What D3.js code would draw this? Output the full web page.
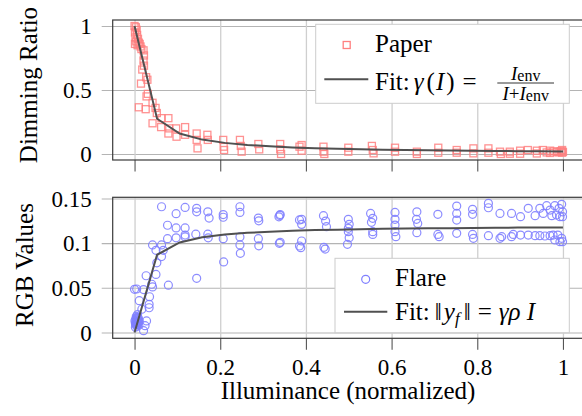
<!DOCTYPE html>
<html>
<head>
<meta charset="utf-8">
<script src="https://cdn.jsdelivr.net/npm/d3@7"></script>
<style>
  body { margin: 0; background: #fff; }
  svg text { font-family: "Liberation Serif", "DejaVu Serif", serif; }
</style>
</head>
<body>
<div id="chart"></div>
<script>
// --------------------------------------
//  Data
// --------------------------------------

const xTicks = [0, 0.2, 0.4, 0.6, 0.8, 1];
const yTicksTop = [0, 0.5, 1];
const yTicksBottom = [0, 0.05, 0.1, 0.15];

// Paper: illuminance / dimming ratio
const paperIllum = [
  0.000, 0.003, 0.005, 0.001, 0.006, 0.002, 0.008, 0.004, 0.010, 0.001, 0.007, 0.012, 0.014, 0.016,
  0.021, 0.022, 0.021, 0.022, 0.018, 0.015, 0.027, 0.030, 0.031, 0.028, 0.042, 0.049, 0.052, 0.010,
  0.026, 0.042, 0.062, 0.063, 0.079, 0.081, 0.079, 0.097, 0.098, 0.118, 0.118, 0.145, 0.145, 0.147,
  0.170, 0.171, 0.207, 0.208, 0.209, 0.246, 0.248, 0.250, 0.289, 0.291, 0.340, 0.340, 0.342, 0.385,
  0.390, 0.390, 0.441, 0.441, 0.443, 0.499, 0.499, 0.554, 0.556, 0.558, 0.608, 0.608, 0.659, 0.659,
  0.709, 0.709, 0.752, 0.752, 0.791, 0.791, 0.826, 0.826, 0.853, 0.855, 0.876, 0.876, 0.900, 0.900,
  0.918, 0.939, 0.939, 0.953, 0.962, 0.970, 0.970, 0.978, 0.986, 0.990, 0.995, 0.998, 0.998, 1.000
];
const paperDim = [
  1.00, 0.99, 0.97, 0.95, 0.93, 0.91, 0.90, 0.88, 0.87, 0.86, 0.85, 0.86, 0.84, 0.82,
  0.81, 0.77, 0.73, 0.69, 0.66, 0.55, 0.60, 0.58, 0.47, 0.45, 0.40, 0.36, 0.32, 0.365,
  0.35, 0.24, 0.21, 0.28, 0.28, 0.20, 0.16, 0.20, 0.135, 0.21, 0.15, 0.16, 0.11, 0.044,
  0.15, 0.11, 0.11, 0.057, 0.031, 0.11, 0.063, 0.018, 0.078, 0.036, 0.078, 0.036, 0.000, 0.057,
  0.070, 0.026, 0.057, 0.018, 0.000, 0.049, 0.018, 0.063, 0.031, 0.005, 0.049, 0.018, 0.018, 0.000,
  0.049, 0.010, 0.031, 0.010, 0.044, 0.005, 0.044, 0.010, 0.018, 0.000, 0.018, 0.002, 0.026, 0.002,
  0.031, 0.026, 0.004, 0.031, 0.012, 0.026, 0.008, 0.020, 0.018, 0.012, 0.022, 0.031, 0.010, 0.016
];

// Flare: illuminance / RGB values
const flareIllum = [
  0.002, 0.004, 0.006, 0.003, 0.007, 0.005, 0.008, 0.001, 0.009, 0.004, 0.006, 0.010, 0.002, 0.011, 0.007, 0.003,
  0.005, 0.006, 0.004, 0.008, 0.003, 0.009, 0.005, 0.007,
  0.021, 0.0245, 0.028, 0.017, 0.034, 0.034, 0.011, 0.035, 0.000, 0.005, 0.021, 0.040, 0.042, 0.027, 0.052, 0.050,
  0.079, 0.145, 0.042, 0.050, 0.067, 0.063, 0.063, 0.077, 0.097, 0.118, 0.118, 0.077, 0.097, 0.118, 0.063, 0.097,
  0.118, 0.145, 0.145, 0.143, 0.171, 0.174, 0.171, 0.172, 0.207, 0.207, 0.207, 0.208, 0.246, 0.246, 0.246, 0.246,
  0.247, 0.289, 0.290, 0.289, 0.290, 0.337, 0.339, 0.338, 0.385, 0.385,
  0.340, 0.390, 0.390, 0.441, 0.446, 0.448, 0.499, 0.501, 0.499, 0.551, 0.556, 0.553, 0.608, 0.608, 0.608, 0.659,
  0.658, 0.661, 0.708, 0.752, 0.752, 0.752, 0.789, 0.789, 0.826, 0.826, 0.853, 0.880, 0.901, 0.919, 0.935, 0.946,
  0.954, 0.962, 0.970, 0.974, 0.981, 0.985, 0.991, 0.993, 0.997, 0.999, 0.999,
  0.340, 0.390, 0.388, 0.442, 0.445, 0.499, 0.501, 0.497, 0.556, 0.556, 0.608, 0.610, 0.659, 0.708, 0.711, 0.752,
  0.789, 0.791, 0.826, 0.853, 0.857, 0.880, 0.884, 0.901, 0.919, 0.935, 0.946, 0.958, 0.970, 0.977, 0.981, 0.988,
  0.993, 0.997, 0.999
];
const flareRgb = [
  0.010, 0.012, 0.009, 0.015, 0.014, 0.007, 0.011, 0.013, 0.016, 0.018, 0.017, 0.008, 0.006, 0.013, 0.020, 0.009,
  0.012, 0.010, 0.014, 0.013, 0.011, 0.012, 0.016, 0.009,
  0.002, 0.0076, 0.0129, 0.026, 0.0277, 0.0315, 0.0356, 0.040, 0.0483, 0.0487, 0.048, 0.054, 0.051, 0.0635, 0.078, 0.065,
  0.053, 0.0606, 0.098, 0.092, 0.092, 0.085, 0.098, 0.105, 0.106, 0.109, 0.107, 0.120, 0.117, 0.117, 0.1407, 0.133,
  0.140, 0.139, 0.135, 0.110, 0.135, 0.128, 0.110, 0.106, 0.132, 0.129, 0.105, 0.079, 0.1407, 0.1344, 0.107, 0.098,
  0.0886, 0.128, 0.125, 0.105, 0.097, 0.1295, 0.131, 0.0998, 0.126, 0.0968,
  0.132, 0.1266, 0.121, 0.1307, 0.1247, 0.1184, 0.1266, 0.121, 0.1166, 0.1333, 0.1278, 0.1233, 0.1344, 0.1266, 0.1202, 0.1351,
  0.1266, 0.1221, 0.1322, 0.1415, 0.1333, 0.1258, 0.1378, 0.1322, 0.1445, 0.1396, 0.1333, 0.1333, 0.1296, 0.139, 0.1307, 0.139,
  0.1333, 0.1419, 0.137, 0.1307, 0.1419, 0.1315, 0.139, 0.1296, 0.1434, 0.1351, 0.1296,
  0.1009, 0.1024, 0.0949, 0.0953, 0.0934, 0.1128, 0.106, 0.0987, 0.1128, 0.1098, 0.1128, 0.1072, 0.1117, 0.1098, 0.1072, 0.111,
  0.1098, 0.1054, 0.1083, 0.1054, 0.1072, 0.1072, 0.1098, 0.109, 0.109, 0.1083, 0.1083, 0.108, 0.1083, 0.109, 0.1035, 0.109,
  0.1016, 0.1054, 0.1016
];

// Fit curves, sampled at 20 illuminance steps
const fitIllum = [0, 0.0526, 0.1053, 0.1579, 0.2105, 0.2632, 0.3158, 0.3684, 0.4211, 0.4737,
                  0.5263, 0.5789, 0.6316, 0.6842, 0.7368, 0.7895, 0.8421, 0.8947, 0.9474, 1];
const fitDim = [1.0, 0.2754, 0.1597, 0.1124, 0.0868, 0.0706, 0.0596, 0.0515, 0.0454, 0.0405,
                0.0366, 0.0334, 0.0307, 0.0284, 0.0264, 0.0247, 0.0232, 0.0219, 0.0207, 0.0196];
const fitRgb = [0, 0.0870, 0.1008, 0.1065, 0.1096, 0.1115, 0.1128, 0.1138, 0.1146, 0.1151,
                0.1156, 0.1160, 0.1163, 0.1166, 0.1168, 0.1170, 0.1172, 0.1174, 0.1175, 0.1176];

// --------------------------------------
//  Canvas
// --------------------------------------

const width = 582;
const height = 416;
const frameLeft = 112.7;
const frameRight = 584.8;
const tickLeft = 101.7;
const serif = "'Liberation Serif', 'DejaVu Serif', serif";

const svg = d3.select("#chart")
  .append("svg")
    .attr("width", width)
    .attr("height", height)
    .attr("font-family", serif)
    .attr("viewBox", `0 0 ${width} ${height}`);

svg.append("rect").attr("width", width).attr("height", height).attr("fill", "#fff");

const x = d3.scaleLinear()
    .domain([-0.051, 1.051])
    .range([frameLeft, frameRight]);

const panels = [
  { name: "top", top: 20, bottom: 160, domain: [-0.047, 1.047], yTicks: yTicksTop,
    label: "Dimming Ratio", labelX: 37, labelY: 85, showX: false },
  { name: "bottom", top: 197.3, bottom: 338.3, domain: [-0.0065, 0.1513], yTicks: yTicksBottom,
    label: "RGB Values", labelX: 32.5, labelY: 265, showX: true }
];

panels.forEach(p => {
  p.y = d3.scaleLinear().domain(p.domain).range([p.bottom, p.top]);
  const g = svg.append("g").attr("class", `panel-${p.name}`);

  // horizontal grid + outside y ticks
  g.append("g")
      .attr("transform", `translate(${tickLeft}, 0)`)
      .call(d3.axisLeft(p.y)
          .tickValues(p.yTicks)
          .tickSize(-(width - tickLeft + 10))
          .tickPadding(10)
          .tickFormat(d => String(d)))
      .attr("font-family", serif)
      .attr("font-size", 23)
      .call(a => a.select(".domain").remove())
      .call(a => a.selectAll(".tick line").attr("stroke", "#b4b4b4").attr("stroke-width", 1.1))
      .call(a => a.selectAll(".tick text").attr("dy", "0.34em"));

  // vertical grid
  g.append("g")
      .attr("transform", `translate(0, ${p.bottom})`)
      .call(d3.axisBottom(x)
          .tickValues(xTicks)
          .tickSize(-(p.bottom - p.top))
          .tickFormat(""))
      .call(a => a.select(".domain").remove())
      .call(a => a.selectAll(".tick line").attr("stroke", "#cfcfcf").attr("stroke-width", 1.3));

  // x ticks below the frame
  g.append("g")
      .attr("transform", `translate(0, ${p.bottom})`)
      .call(d3.axisBottom(x)
          .tickValues(xTicks)
          .tickSize(11.5)
          .tickPadding(9)
          .tickFormat(p.showX ? (d => String(d)) : ""))
      .attr("font-family", serif)
      .attr("font-size", 23)
      .call(a => a.select(".domain").remove())
      .call(a => a.selectAll(".tick line").attr("stroke", "#555").attr("stroke-width", 1.1));

  // frame (right side runs off the canvas)
  g.append("rect")
      .attr("x", frameLeft)
      .attr("y", p.top)
      .attr("width", frameRight + 12 - frameLeft)
      .attr("height", p.bottom - p.top)
      .attr("fill", "none")
      .attr("stroke", "#3a3a3a")
      .attr("stroke-width", 1.2);

  // y label
  g.append("text")
      .attr("transform", `translate(${p.labelX}, ${p.labelY}) rotate(-90)`)
      .attr("text-anchor", "middle")
      .attr("font-size", 25)
      .text(p.label);
});

const yTop = panels[0].y;
const yBot = panels[1].y;

// --------------------------------------
//  Marks
// --------------------------------------

const sq = 7;
svg.append("g")
  .selectAll("rect")
  .data(paperIllum)
  .join("rect")
    .attr("x", (d, i) => x(d) - sq / 2)
    .attr("y", (d, i) => yTop(paperDim[i]) - sq / 2)
    .attr("width", sq)
    .attr("height", sq)
    .attr("fill", "none")
    .attr("stroke", "#ff7f7f")
    .attr("stroke-opacity", 0.85)
    .attr("stroke-width", 1.3);

svg.append("g")
  .selectAll("circle")
  .data(flareIllum)
  .join("circle")
    .attr("cx", d => x(d))
    .attr("cy", (d, i) => yBot(flareRgb[i]))
    .attr("r", 4)
    .attr("fill", "none")
    .attr("stroke", "#7f7fff")
    .attr("stroke-opacity", 0.9)
    .attr("stroke-width", 1.2);

const fitTop = d3.line().x(d => x(d)).y((d, i) => yTop(fitDim[i]));
const fitBot = d3.line().x(d => x(d)).y((d, i) => yBot(fitRgb[i]));

svg.append("path").attr("d", fitTop(fitIllum))
    .attr("fill", "none").attr("stroke", "#505050").attr("stroke-width", 2);
svg.append("path").attr("d", fitBot(fitIllum))
    .attr("fill", "none").attr("stroke", "#505050").attr("stroke-width", 2);

// --------------------------------------
//  x axis title
// --------------------------------------

svg.append("text")
    .attr("x", 348)
    .attr("y", 399)
    .attr("text-anchor", "middle")
    .attr("font-size", 25)
    .text("Illuminance (normalized)");

// --------------------------------------
//  Legends
// --------------------------------------

const leg1 = svg.append("g");
leg1.append("rect")
    .attr("x", 315.7).attr("y", 24.3).attr("width", 253.6).attr("height", 79)
    .attr("fill", "#fff").attr("stroke", "#cccccc").attr("stroke-width", 1);
leg1.append("rect")
    .attr("x", 346.7 - sq / 2).attr("y", 45 - sq / 2).attr("width", sq).attr("height", sq)
    .attr("fill", "none").attr("stroke", "#ff7f7f").attr("stroke-width", 1.3);
leg1.append("text").attr("x", 375).attr("y", 52).attr("font-size", 25).text("Paper");
leg1.append("line").attr("x1", 324.3).attr("x2", 368.3).attr("y1", 79.3).attr("y2", 79.3)
    .attr("stroke", "#505050").attr("stroke-width", 2);

const fit1 = leg1.append("text").attr("x", 375).attr("y", 89.5).attr("font-size", 25);
fit1.append("tspan").text("Fit:");
fit1.append("tspan").attr("dx", 4).attr("font-style", "italic").text("γ");
fit1.append("tspan").attr("dx", 3).text("(");
fit1.append("tspan").attr("dx", 1).attr("font-style", "italic").text("I");
fit1.append("tspan").attr("dx", 2).text(")");
fit1.append("tspan").attr("dx", 8).text("=");

const num = leg1.append("text").attr("x", 525.7).attr("y", 79.5)
    .attr("text-anchor", "middle").attr("font-size", 19);
num.append("tspan").attr("font-style", "italic").text("I");
num.append("tspan").attr("font-size", 16).attr("dy", 1.5).text("env");
leg1.append("line").attr("x1", 497.3).attr("x2", 554).attr("y1", 83).attr("y2", 83)
    .attr("stroke", "#000").attr("stroke-width", 0.8);
const den = leg1.append("text").attr("x", 525.7).attr("y", 99.5)
    .attr("text-anchor", "middle").attr("font-size", 19);
den.append("tspan").attr("font-style", "italic").text("I");
den.append("tspan").text("+");
den.append("tspan").attr("font-style", "italic").text("I");
den.append("tspan").attr("font-size", 16).attr("dy", 1.5).text("env");

const leg2 = svg.append("g");
leg2.append("rect")
    .attr("x", 335).attr("y", 258.3).attr("width", 234.3).attr("height", 74.4)
    .attr("fill", "#fff").attr("stroke", "#cccccc").attr("stroke-width", 1);
leg2.append("circle").attr("cx", 365.7).attr("cy", 279.3).attr("r", 4)
    .attr("fill", "none").attr("stroke", "#7f7fff").attr("stroke-width", 1.2);
leg2.append("text").attr("x", 395).attr("y", 285.5).attr("font-size", 25).text("Flare");
leg2.append("line").attr("x1", 344).attr("x2", 387.3).attr("y1", 311.7).attr("y2", 311.7)
    .attr("stroke", "#505050").attr("stroke-width", 2);

const fit2 = leg2.append("text").attr("x", 395).attr("y", 320).attr("font-size", 25);
fit2.append("tspan").text("Fit:");
fit2.append("tspan").attr("dx", 5).text("‖");
fit2.append("tspan").attr("dx", 2).attr("font-style", "italic").text("y");
fit2.append("tspan").attr("font-style", "italic").attr("font-size", 17).attr("dy", 4).text("f");
fit2.append("tspan").attr("dx", 4).attr("dy", -4).text("‖");
fit2.append("tspan").attr("dx", 7).text("=");
fit2.append("tspan").attr("dx", 7).attr("font-style", "italic").text("γρ");
fit2.append("tspan").attr("dx", 6).attr("font-style", "italic").text("I");
</script>
</body>
</html>
